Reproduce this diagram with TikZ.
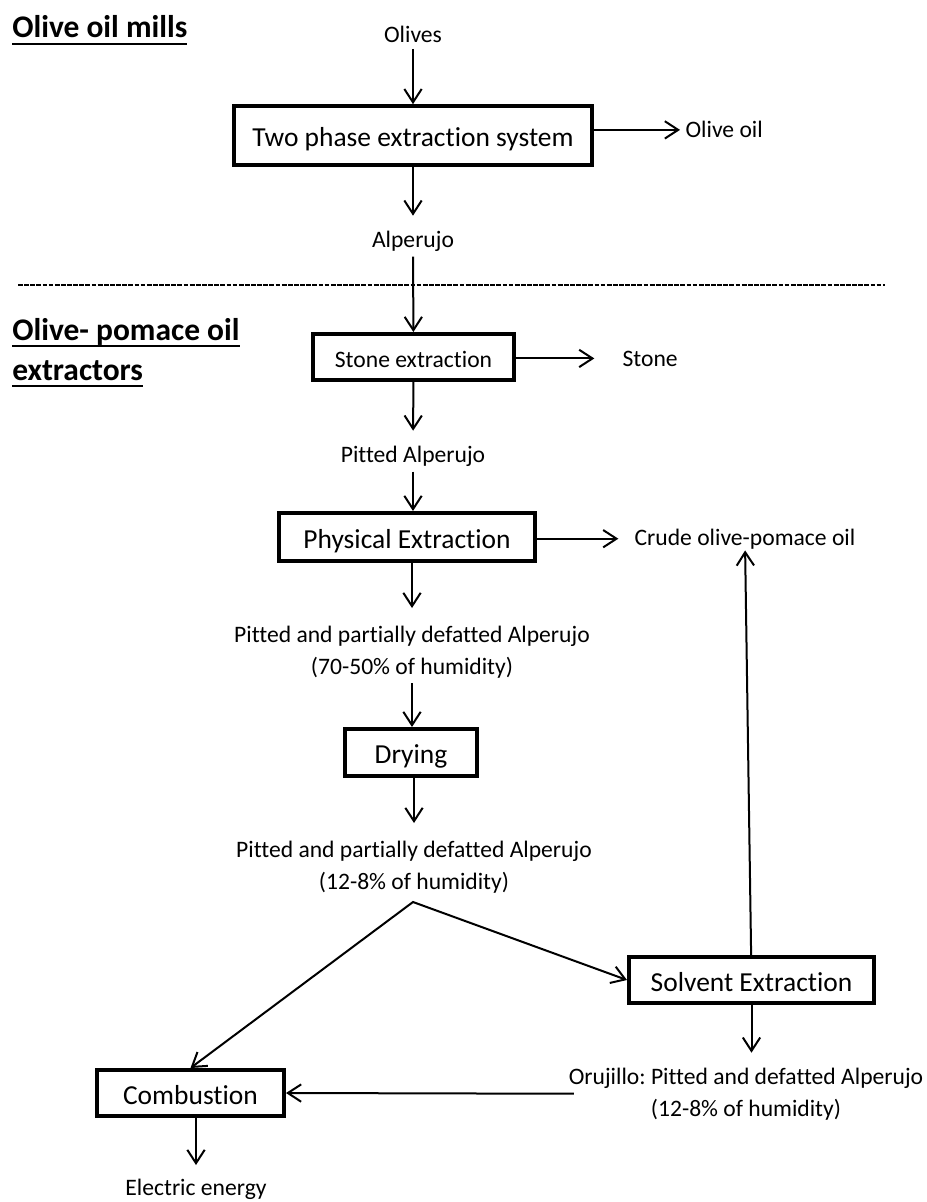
\documentclass[tikz,border=0pt]{standalone}
\usepackage{fontspec}
\setmainfont{Carlito}[Ligatures=NoCommon]
\usepackage{tikz}
\usetikzlibrary{arrows.meta, positioning}
\frenchspacing
\newcommand{\streamfont}{\fontsize{17.7}{24}\selectfont}
\newcommand{\stagefont}{\fontsize{20.6}{24}\selectfont}
\newcommand{\headfont}{\bfseries\fontsize{23.6}{30}\selectfont}
\newcommand{\headrule}[1]{\setbox0\hbox{#1}\leavevmode\rlap{\vrule height -4pt depth 5.5pt width \wd0}\box0}
\tikzset{
	x = .75pt,
	y = -.75pt,
	>={Straight Barb[length=10pt, width=13pt]},
	flow/.style={
		->,
		line width=1.5pt
	},
	stage/.style={
		draw,
		line width=3pt,
		inner sep=0pt,
		text height=16.5pt,
		text depth=0pt,
		font=\stagefont
	},
	stream/.style={
		anchor=base,
		align=center,
		inner sep=4pt,
		font=\streamfont
	},
	heading/.style={
		anchor=base west,
		align=left,
		inner sep=0pt,
		font=\headfont
	}
}

\begin{document}
\begin{tikzpicture}
	\useasboundingbox (0,0) rectangle (927,1202);

	\node[heading] (mills) at (12,38) {\headrule{Olive oil mills}};
	\node[heading] (extractors) at (12,380) {\headrule{Olive- pomace oil}\\\headrule{extractors}};

	\draw[line width=2pt, dash pattern=on 3.6pt off 1pt] (18,285) -- (885,285);

	% process stages
	\node[stage, minimum width=268.5pt, minimum height=44pt] at (413,135.5) (twophase) {Two phase extraction system};
	\node[stage, font=\streamfont, text height=15pt, minimum width=150.75pt, minimum height=34.5pt] at (413.5,357) (stone) {Stone extraction};
	\node[stage, minimum width=192pt, minimum height=36pt] at (407,537) (physical) {Physical Extraction};
	\node[stage, minimum width=99pt, minimum height=35.25pt] at (411,752.5) (drying) {Drying};
	\node[stage, minimum width=183.75pt, minimum height=34.5pt] at (751.5,980) (solvent) {Solvent Extraction};
	\node[stage, minimum width=140.25pt, minimum height=34.5pt] at (190.5,1093) (combustion) {Combustion};

	% streams (two-line ones sit on their last baseline)
	\node[stream] at (413,43) (olives) {Olives};
	\node[stream, anchor=base west] at (680,138) (oliveoil) {Olive oil};
	\node[stream] at (413,247) (alperujo) {Alperujo};
	\node[stream, anchor=base west] at (617,366) (stonelbl) {Stone};
	\node[stream] at (413,462) (pitted) {Pitted Alperujo};
	\node[stream, anchor=base west] at (629,545) (crude) {Crude olive-pomace oil};
	\node[stream] at (412,674) (wet) {Pitted and partially defatted Alperujo\\(70-50\% of humidity)};
	\node[stream] at (414,889) (dried) {Pitted and partially defatted Alperujo\\(12-8\% of humidity)};
	\node[stream] at (746,1116) (orujillo) {Orujillo: Pitted and defatted Alperujo\\(12-8\% of humidity)};
	\node[stream] at (196,1195) (electric) {Electric energy};
	\coordinate (split) at (413,902);

	\draw[flow] (olives) -- (twophase);
	\draw[flow] (twophase.east |- oliveoil.west) -- (oliveoil.west);
	\draw[flow, shorten >=7pt] (twophase) -- (alperujo);
	\draw[flow] (alperujo) -- (stone);
	\draw[flow, shorten >=17pt] (stone.east |- stonelbl.west) -- (stonelbl.west);
	\draw[flow, shorten >=7pt] (stone) -- (pitted);
	\draw[flow] (pitted) -- (pitted |- physical.north);
	\draw[flow, shorten >=8pt] (physical.east |- crude.west) -- (crude.west);
	\draw[flow, shorten >=9pt] (physical.south -| wet) -- (wet);
	\draw[flow] (wet) -- (wet |- drying.north);
	\draw[flow, shorten >=9pt] (drying.south -| dried) -- (dried);
	\draw[flow, <->] (combustion.north) -- (split) -- (solvent.west);
	\draw[flow, shorten >=-3pt] (solvent) -- (crude);
	\draw[flow, shorten >=7pt] (solvent.south) -- (solvent.south |- orujillo.north);
	\draw[flow, shorten <=-8pt] (orujillo.west) -- (combustion.east);
	\draw[flow, shorten >=6pt] (combustion.south -| electric) -- (electric);
\end{tikzpicture}
\end{document}
